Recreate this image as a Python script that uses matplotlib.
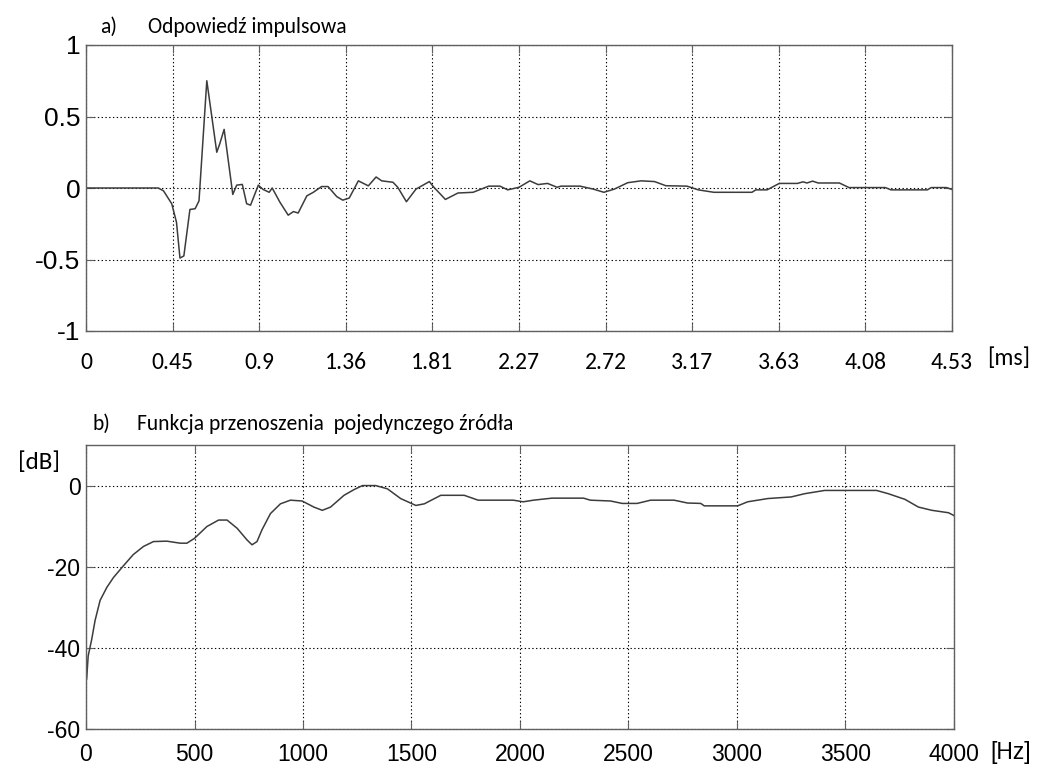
import matplotlib
matplotlib.use("Agg")
import matplotlib.pyplot as plt
from matplotlib.font_manager import fontManager

names = {f.name for f in fontManager.ttflist}
def pick(cands, default):
    for c in cands:
        if c in names:
            return c
    return default
CAL = pick(['Carlito', 'Calibri', 'Lato'], 'DejaVu Sans')
ARIAL = pick(['Liberation Sans', 'Arimo'], 'DejaVu Sans')

FS = 44.1  # samples per ms

# ---- a) impulse response (sample index, amplitude) ----
ir_samples = [0, 16.7, 17.9, 19.8, 20.9, 21.7, 22.6, 24.0, 25.2, 26.1, 27.9, 30.2, 30.9, 31.9,
              33.9, 34.8, 36.1, 37.1, 38.0, 39.8, 40.9, 42.3, 43.0, 44.8, 46.7, 47.9, 49.0,
              51.0, 52.5, 54.4, 55.9, 57.9, 59.3, 60.8, 62.9, 65.2, 67.0, 68.3, 70.9, 72.0,
              74.0, 76.2, 79.3, 80.2, 83.0, 85.9, 89.4, 93.0, 95.6, 97.4, 100.0, 102.5, 104.4,
              106.6, 108.8, 109.7, 114.1, 117.2, 119.6, 122.0, 125.1, 128.2, 131.3, 133.9,
              138.8, 141.4, 145.0, 153.8, 154.7, 157.3, 160.1, 164.3, 165.6, 166.5, 167.8,
              169.1, 174.0, 176.2, 184.6, 185.9, 194.3, 195.2, 198.7, 200.0]
ir_values = [0, 0, -0.02, -0.11, -0.24, -0.49, -0.475, -0.15, -0.145, -0.09, 0.75, 0.25, 0.31, 0.41,
             -0.045, 0.02, 0.025, -0.11, -0.12, 0.02, -0.01, -0.03, 0.0, -0.1, -0.19, -0.165, -0.175,
             -0.055, -0.03, 0.01, 0.01, -0.06, -0.085, -0.07, 0.05, 0.015, 0.077, 0.05, 0.04, 0.005,
             -0.096, -0.008, 0.045, 0.01, -0.08, -0.035, -0.03, 0.013, 0.013, -0.013, 0.005, 0.05, 0.024,
             0.032, 0.005, 0.013, 0.013, -0.008, -0.03, -0.008, 0.037, 0.05, 0.045, 0.016,
             0.013, -0.013, -0.03, -0.03, -0.013, -0.013, 0.032, 0.032, 0.043, 0.035, 0.048,
             0.035, 0.035, 0.003, 0.003, -0.013, -0.013, 0.003, 0.003, -0.01]
ir_tick_labels = ["0", "0.45", "0.9", "1.36", "1.81", "2.27", "2.72", "3.17", "3.63", "4.08", "4.53"]
ir_yticks = [-1, -0.5, 0, 0.5, 1]
ir_ytick_labels = ["-1", "-0.5", "0", "0.5", "1"]

# ---- b) transfer function (Hz, dB) ----
tf_freq = [0, 3, 10, 26, 42, 65, 96, 126, 172, 218, 265, 311, 372, 434, 465, 500, 557, 611, 650,
           696, 742, 765, 788, 811, 850, 896, 942, 996, 1050, 1089, 1127, 1189, 1235, 1274, 1335,
           1389, 1450, 1520, 1559, 1635, 1743, 1807, 1969, 2015, 2062, 2147, 2293, 2324, 2417,
           2471, 2540, 2602, 2710, 2772, 2833, 2849, 3003, 3049, 3142, 3250, 3312, 3404, 3643,
           3697, 3774, 3836, 3898, 3975, 4000]
tf_db = [-48, -47.7, -42, -38, -33.2, -28.3, -25.1, -22.7, -19.8, -17, -15, -13.8, -13.7, -14.2,
         -14.2, -13, -10.1, -8.5, -8.5, -10.5, -13.4, -14.6, -13.8, -10.9, -6.9, -4.5, -3.6, -3.8,
         -5.3, -6.1, -5.3, -2.4, -1.0, 0, 0, -0.8, -3.2, -4.9, -4.5, -2.4, -2.4, -3.6, -3.6, -4.0,
         -3.6, -3.1, -3.1, -3.6, -3.8, -4.4, -4.4, -3.6, -3.6, -4.3, -4.4, -5.0, -5.0, -4.0, -3.2,
         -2.8, -2.0, -1.2, -1.2, -2.0, -3.4, -5.3, -6.1, -6.7, -7.4]
tf_ticks = [0, 500, 1000, 1500, 2000, 2500, 3000, 3500, 4000]
db_ticks = [-60, -40, -20, 0]

W, H = 1048, 764
fig = plt.figure(figsize=(W / 100, H / 100), dpi=100)

def frac(l, t, r, b):
    return [l / W, 1 - b / H, (r - l) / W, (b - t) / H]

LINE = '#3c3c3c'
FRAME = '#606060'

def style(ax):
    for s in ax.spines.values():
        s.set_color(FRAME)
        s.set_linewidth(1.0)
    ax.grid(True, color='black', linestyle=(0, (1.2, 2.2)), linewidth=0.8)
    ax.tick_params(direction='in', length=6, width=0.8, color=FRAME,
                   top=True, right=True, bottom=True, left=True)

# top axes
ax1 = fig.add_axes(frac(86, 45, 952, 331))
t_ms = [s / FS for s in ir_samples]
ax1.plot(t_ms, ir_values, color=LINE, lw=1.1)
ax1.set_xlim(0, 200 / FS)
ax1.set_ylim(-1, 1)
ax1.set_xticks([k * 20 / FS for k in range(11)])
ax1.set_xticklabels(ir_tick_labels, fontfamily=CAL, fontsize=17)
ax1.set_yticks(ir_yticks)
ax1.set_yticklabels(ir_ytick_labels, fontfamily=ARIAL, fontsize=19)
style(ax1)
ax1.tick_params(axis='x', pad=15)
ax1.tick_params(axis='y', pad=4)

TFS = 15.5
fig.text(100 / W, 1 - 27 / H, "a)", fontfamily=CAL, fontsize=TFS, va='center', ha='left')
fig.text(148 / W, 1 - 27 / H, "Odpowiedź impulsowa", fontfamily=CAL, fontsize=TFS, va='center', ha='left')
fig.text(987 / W, 1 - 358 / H, "[ms]", fontfamily=CAL, fontsize=17, va='center', ha='left')

# bottom axes
ax2 = fig.add_axes(frac(86, 445, 954, 729))
ax2.plot(tf_freq, tf_db, color=LINE, lw=1.1)
ax2.set_xlim(0, 4000)
ax2.set_ylim(-60, 10)
ax2.set_xticks(tf_ticks)
ax2.set_xticklabels([str(v) for v in tf_ticks], fontfamily=ARIAL, fontsize=16.5)
ax2.set_yticks(db_ticks)
ax2.set_yticklabels([str(v) for v in db_ticks], fontfamily=ARIAL, fontsize=16.5)
style(ax2)
ax2.tick_params(axis='x', pad=10)
ax2.tick_params(axis='y', pad=4)

fig.text(92 / W, 1 - 424 / H, "b)", fontfamily=CAL, fontsize=TFS, va='center', ha='left')
fig.text(137 / W, 1 - 424 / H, "Funkcja przenoszenia  pojedynczego źródła", fontfamily=CAL,
         fontsize=TFS, va='center', ha='left')
fig.text(18 / W, 1 - 462 / H, "[dB]", fontfamily=CAL, fontsize=18, va='center', ha='left')
fig.text(990 / W, 1 - 752 / H, "[Hz]", fontfamily=ARIAL, fontsize=16.5, va='center', ha='left')

fig.savefig("out.png", dpi=100, facecolor='white')
